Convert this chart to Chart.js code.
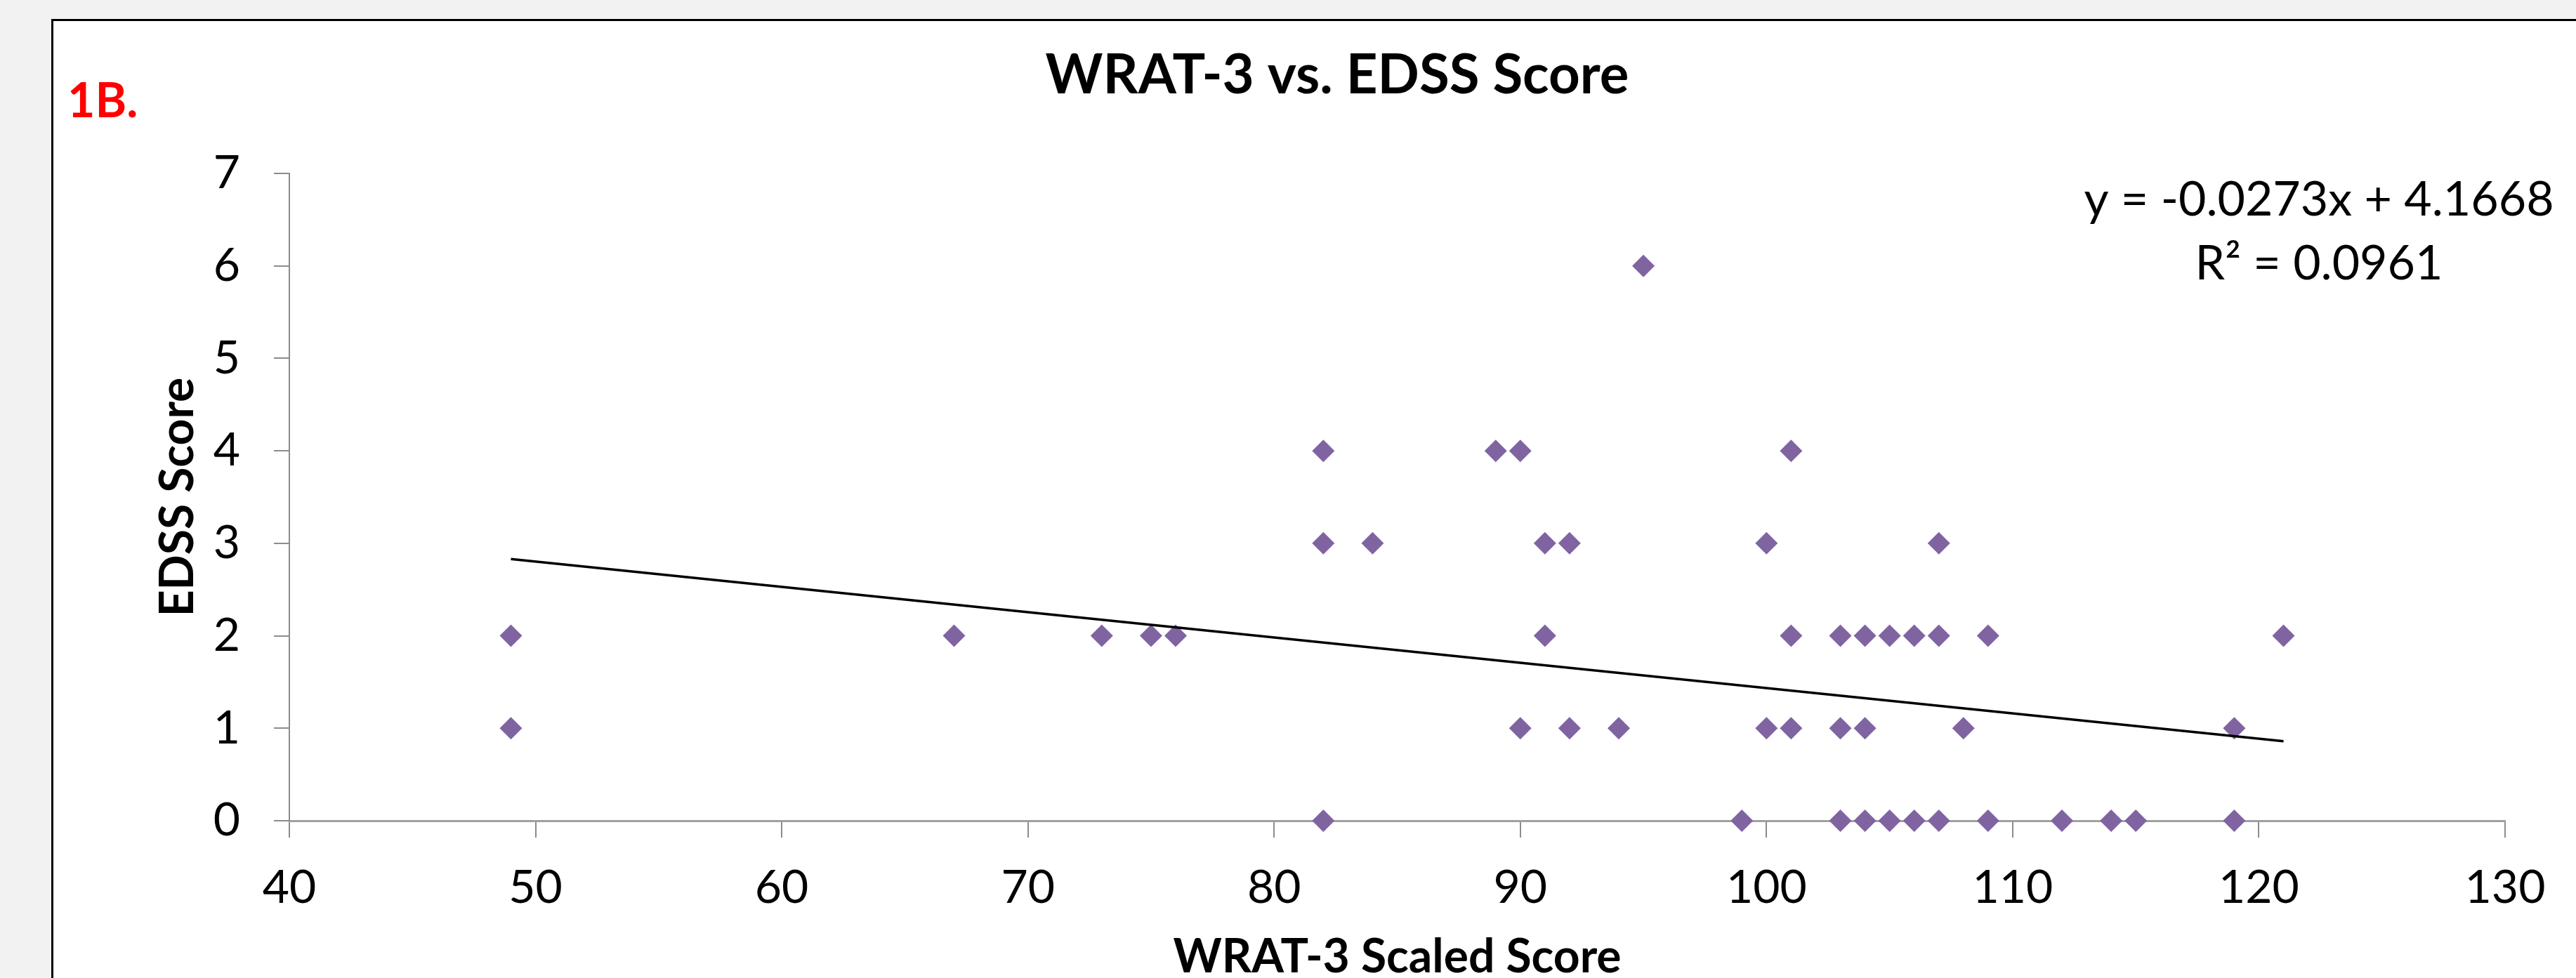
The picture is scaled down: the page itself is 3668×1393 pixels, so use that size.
<!DOCTYPE html>
<html>
<head>
<meta charset="utf-8">
<script src="https://cdn.jsdelivr.net/npm/chart.js@4.4.1/dist/chart.umd.min.js"></script>
<style>
    html, body { margin: 0; padding: 0; overflow: hidden; background: #f2f2f2; }
    canvas { display: block; }
</style>
</head>
<body>
<canvas id="wrat-edss" width="3668" height="1393"></canvas>
<script>
// scatter points (one entry per visible diamond)
const wratScores = [
    95,
    82, 89, 90, 101,
    82, 84, 91, 92, 100, 107,
    49, 67, 73, 75, 76, 91, 101, 103, 104, 105, 106, 107, 109, 121,
    49, 90, 92, 94, 100, 101, 103, 104, 108, 119,
    82, 99, 103, 104, 105, 106, 107, 109, 112, 114, 115, 119,
]
const edssScores = [
    6,
    4, 4, 4, 4,
    3, 3, 3, 3, 3, 3,
    2, 2, 2, 2, 2, 2, 2, 2, 2, 2, 2, 2, 2, 2,
    1, 1, 1, 1, 1, 1, 1, 1, 1, 1,
    0, 0, 0, 0, 0, 0, 0, 0, 0, 0, 0, 0,
]

// linear trendline end points
const trendX = [49, 121]
const trendY = [2.83, 0.86]

const xTicks = [40, 50, 60, 70, 80, 90, 100, 110, 120, 130]
const yTicks = [0, 1, 2, 3, 4, 5, 6, 7]

const chartTitle = 'WRAT-3 vs. EDSS Score'
const panelLabel = '1B.'
const equationLines = ['y = -0.0273x + 4.1668', 'R\u00b2 = 0.0961']

const FONT = 'Lato, "Open Sans", sans-serif'

let points = []
for (let i = 0; i < wratScores.length; i++) {
    points.push({ x: wratScores[i], y: edssScores[i] })
}
let trend = trendX.map((x, i) => ({ x: x, y: trendY[i] }))

const frame = {
    id: 'frame',
    beforeDraw(chart) {
        const ctx = chart.ctx
        ctx.save()
        ctx.fillStyle = '#f2f2f2'
        ctx.fillRect(0, 0, chart.width, chart.height)
        ctx.fillStyle = '#ffffff'
        ctx.fillRect(75, 29, chart.width, chart.height)
        ctx.strokeStyle = '#000000'
        ctx.lineWidth = 3
        ctx.beginPath()
        ctx.moveTo(74.5, chart.height)
        ctx.lineTo(74.5, 28.5)
        ctx.lineTo(chart.width, 28.5)
        ctx.stroke()
        ctx.restore()
    },
    afterDraw(chart) {
        const ctx = chart.ctx
        ctx.save()
        ctx.textBaseline = 'alphabetic'

        // title
        ctx.fillStyle = '#000000'
        ctx.textAlign = 'center'
        ctx.font = 'bold 78px ' + FONT
        ctx.fillText(chartTitle, 1904, 133)

        // panel label
        ctx.fillStyle = '#ff0000'
        ctx.textAlign = 'left'
        ctx.font = 'bold 68px ' + FONT
        ctx.fillText(panelLabel, 96, 167)

        // trendline equation
        ctx.fillStyle = '#000000'
        ctx.textAlign = 'center'
        ctx.font = '68px ' + FONT
        ctx.fillText(equationLines[0], 3302, 307)
        ctx.fillText(equationLines[1], 3302, 398)
        ctx.restore()
    },
}

new Chart('wrat-edss', {
    type: 'scatter',
    data: {
        datasets: [
            {
                type: 'line',
                data: trend,
                borderColor: '#000000',
                borderWidth: 3.5,
                pointRadius: 0,
                fill: false,
                clip: false,
            },
            {
                data: points,
                pointStyle: 'rectRot',
                pointRadius: 16,
                backgroundColor: '#8064a2',
                borderColor: '#8064a2',
                borderWidth: 0,
                clip: false,
            },
        ],
    },
    options: {
        responsive: false,
        animation: false,
        devicePixelRatio: 1,
        layout: {
            padding: { left: 75, top: 247, right: 101, bottom: 0 },
        },
        plugins: {
            legend: { display: false },
            tooltip: { enabled: false },
        },
        scales: {
            x: {
                type: 'linear',
                min: 40,
                max: 130,
                afterBuildTicks: (scale) => {
                    scale.ticks = xTicks.map((v) => ({ value: v }))
                },
                afterFit: (scale) => {
                    scale.height = 224
                    scale.paddingLeft = 0
                    scale.paddingRight = 0
                },
                ticks: {
                    color: '#000000',
                    padding: 32,
                    maxRotation: 0,
                    font: { family: FONT, size: 66 },
                },
                grid: {
                    drawOnChartArea: false,
                    tickLength: 24,
                    color: '#8c8c8c',
                    lineWidth: 2,
                },
                border: { color: '#a0a0a0', width: 3 },
                title: {
                    display: true,
                    text: 'WRAT-3 Scaled Score',
                    color: '#000000',
                    padding: { top: 0, bottom: 0 },
                    font: { family: FONT, size: 66, weight: 'bold', lineHeight: 0.9 },
                },
            },
            y: {
                min: 0,
                max: 7,
                afterBuildTicks: (scale) => {
                    scale.ticks = yTicks.map((v) => ({ value: v }))
                },
                afterFit: (scale) => {
                    scale.width = 337
                    scale.paddingTop = 0
                    scale.paddingBottom = 0
                },
                ticks: {
                    color: '#000000',
                    padding: 48,
                    font: { family: FONT, size: 66 },
                },
                grid: {
                    drawOnChartArea: false,
                    tickLength: 22,
                    color: '#8c8c8c',
                    lineWidth: 2,
                },
                border: { color: '#8c8c8c', width: 2 },
                title: {
                    display: true,
                    text: 'EDSS Score',
                    color: '#000000',
                    padding: { top: 149, bottom: 0 },
                    font: { family: FONT, size: 66, weight: 'bold', lineHeight: 0.9 },
                },
            },
        },
    },
    plugins: [frame],
})
</script>
</body>
</html>
